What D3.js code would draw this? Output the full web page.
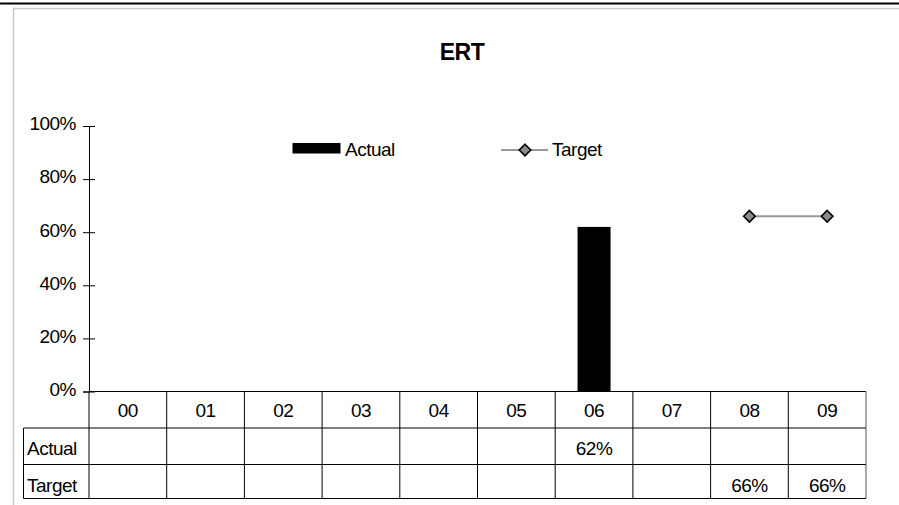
<!DOCTYPE html>
<html><head><meta charset="utf-8">
<script src="https://cdn.jsdelivr.net/npm/d3@7"></script>
<style>
html,body{margin:0;padding:0;background:#fff;}
svg{display:block;font-family:"Liberation Sans",Arial,sans-serif;}
</style></head>
<body>
<svg id="chart" width="899" height="505"></svg>
<script>
const title = "ERT";
const categories = ["00","01","02","03","04","05","06","07","08","09"];
const actual = [null,null,null,null,null,null,0.62,null,null,null];
const target = [null,null,null,null,null,null,null,null,0.66,0.66];
const yTicks = [0,0.2,0.4,0.6,0.8,1.0];
const seriesNames = ["Actual","Target"];

const svg = d3.select("#chart");
const W = 899, H = 505;
const plotLeft = 89, plotRight = 866, plotTop = 126, plotBottom = 391.5;
const tableLeft = 23.5;
const rowH = [391.5, 428, 464.5, 498.5];
const fs = 19, ls = -0.5;

// frame
svg.append("line").attr("x1",0).attr("x2",W).attr("y1",3.5).attr("y2",3.5).attr("stroke","#000").attr("stroke-width",2);
svg.append("path").attr("d",`M13.5,${H}V8.5H${W}`).attr("fill","none").attr("stroke","#c8c8c8").attr("stroke-width",1.5);

const x = d3.scaleBand().domain(categories).range([plotLeft,plotRight]).padding(0);
const y = d3.scaleLinear().domain([0,1]).range([plotBottom,plotTop]);
const fmt = d3.format(".0%");

// title
svg.append("text").attr("x",462).attr("y",59.5).attr("text-anchor","middle")
  .attr("font-size",23).attr("font-weight","bold").attr("letter-spacing",-0.5).text(title);

// y axis
const yAxis = svg.append("g").attr("transform",`translate(${plotLeft},0)`)
  .call(d3.axisLeft(y).tickValues(yTicks).tickFormat(fmt).tickSize(6).tickPadding(7));
yAxis.select(".domain").attr("stroke","#000");
yAxis.selectAll(".tick line").attr("x1",-6).attr("x2",6).attr("stroke","#000");
yAxis.selectAll(".tick text").attr("font-size",fs).attr("font-family","Liberation Sans, Arial, sans-serif")
  .attr("fill","#000").attr("dy","0.2em").attr("letter-spacing",ls);

// bars
const bw = 33;
svg.append("g").selectAll("rect").data(categories.map((c,i)=>({c,v:actual[i]})).filter(d=>d.v!=null))
  .enter().append("rect")
  .attr("x",d=>x(d.c)+x.bandwidth()/2-bw/2).attr("width",bw)
  .attr("y",d=>y(d.v)).attr("height",d=>y(0)-y(d.v)).attr("fill","#000");

// target line
const tData = categories.map((c,i)=>({c,v:target[i]})).filter(d=>d.v!=null);
const line = d3.line().x(d=>x(d.c)+x.bandwidth()/2).y(d=>y(d.v));
svg.append("path").datum(tData).attr("d",line).attr("fill","none").attr("stroke","#999").attr("stroke-width",2);
const diamond = d3.symbol().type(d3.symbolDiamond2).size(85);
svg.append("g").selectAll("path").data(tData).enter().append("path")
  .attr("d",diamond)
  .attr("transform",d=>`translate(${x(d.c)+x.bandwidth()/2},${y(d.v)})`)
  .attr("fill","#8a8a8a").attr("stroke","#000").attr("stroke-width",1.6);

// legend
const lg = svg.append("g");
lg.append("rect").attr("x",292.5).attr("y",143).attr("width",48).attr("height",10.5).attr("fill","#000");
lg.append("text").attr("x",345).attr("y",155.5).attr("font-size",fs).attr("letter-spacing",ls).text(seriesNames[0]);
lg.append("line").attr("x1",501).attr("x2",548).attr("y1",150).attr("y2",150).attr("stroke","#999").attr("stroke-width",2);
lg.append("path").attr("d",diamond).attr("transform","translate(525,150)")
  .attr("fill","#8a8a8a").attr("stroke","#000").attr("stroke-width",1.6);
lg.append("text").attr("x",552).attr("y",155.5).attr("font-size",fs).attr("letter-spacing",ls).text(seriesNames[1]);

// data table
const tbl = svg.append("g").attr("stroke","#000").attr("stroke-width",1);
tbl.append("line").attr("x1",plotLeft).attr("x2",plotRight).attr("y1",rowH[0]).attr("y2",rowH[0]);
for (let r=1;r<4;r++){
  tbl.append("line").attr("x1",tableLeft).attr("x2",plotRight).attr("y1",rowH[r]).attr("y2",rowH[r]);
}
tbl.append("line").attr("x1",tableLeft).attr("x2",tableLeft).attr("y1",rowH[1]).attr("y2",rowH[3]);
categories.forEach(c=>{
  tbl.append("line").attr("x1",x(c)).attr("x2",x(c)).attr("y1",rowH[0]).attr("y2",rowH[3]);
});
tbl.append("line").attr("x1",plotRight).attr("x2",plotRight).attr("y1",rowH[0]).attr("y2",rowH[3]).attr("stroke","#555");

// category labels
const xAxis = svg.append("g").attr("transform",`translate(0,${rowH[0]})`)
  .call(d3.axisBottom(x).tickSize(0).tickPadding(0));
xAxis.select(".domain").remove();
xAxis.selectAll(".tick text").attr("font-size",fs).attr("font-family","Liberation Sans, Arial, sans-serif")
  .attr("fill","#000").attr("dy",null).attr("y",25.5).attr("letter-spacing",ls);

// row labels and values
const rows = [{name:seriesNames[0],vals:actual},{name:seriesNames[1],vals:target}];
rows.forEach((r,ri)=>{
  const baseY = rowH[ri+1]+27;
  svg.append("text").attr("x",27).attr("y",baseY).attr("font-size",fs).attr("letter-spacing",ls).text(r.name);
  svg.append("g").selectAll("text").data(categories.map((c,i)=>({c,v:r.vals[i]})).filter(d=>d.v!=null))
    .enter().append("text").attr("x",d=>x(d.c)+x.bandwidth()/2).attr("y",baseY)
    .attr("text-anchor","middle").attr("font-size",fs).attr("letter-spacing",ls).text(d=>fmt(d.v));
});
</script>
</body></html>
